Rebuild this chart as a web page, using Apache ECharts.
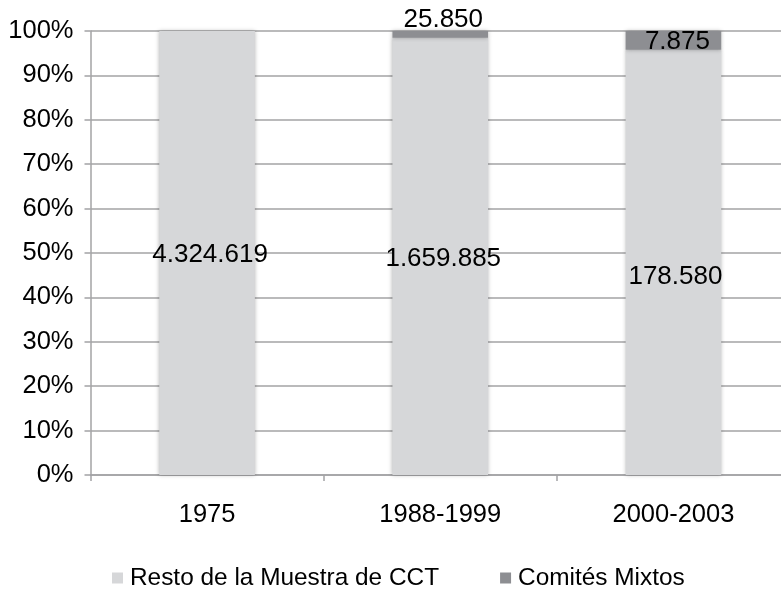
<!DOCTYPE html>
<html>
<head>
<meta charset="utf-8">
<title>CCT</title>
<script src="https://cdn.jsdelivr.net/npm/echarts@6/dist/echarts.min.js"></script>
<style>
  html, body { margin: 0; padding: 0; background: #fff; overflow: hidden; }
  /* the plot runs a few pixels past the right edge of the window */
  #chart { width: 790px; height: 591px; }
</style>
</head>
<body>
<div id="chart"></div>
<script>
// Periods and absolute counts per group
const periods = ['1975', '1988-1999', '2000-2003'];
const restoValues = [4324619, 1659885, 178580];
const comitesValues = [0, 25850, 7875];
const seriesNames = ['Resto de la Muestra de CCT', 'Comités Mixtos'];
const yTicks = [0, 10, 20, 30, 40, 50, 60, 70, 80, 90, 100];

const FONT = '"Liberation Sans", Arial, Helvetica, sans-serif';
const GRID_COLOR = '#a3a3a5';

// share of each period's total, in percent
const totals = restoValues.map((v, i) => v + comitesValues[i]);
const pct = (arr) => arr.map((v, i) => v / totals[i] * 100);

// thousands separated with dots
const fmt = (n) => String(n).replace(/\B(?=(\d{3})+(?!\d))/g, '.');

const restoData = pct(restoValues).map((p, i) => ({
  value: p,
  raw: restoValues[i],
  label: i === 2 ? { offset: [2, 14] } : { offset: [3, 2] }
}));

const comitesData = pct(comitesValues).map((p, i) => {
  const item = { value: p, raw: comitesValues[i] };
  if (comitesValues[i] === 0) item.label = { show: false };
  else if (i === 1) item.label = { position: 'top', distance: 0, offset: [3, 2] };
  else item.label = { position: 'inside', offset: [4, 1] };
  return item;
});

const chart = echarts.init(document.getElementById('chart'), null, { renderer: 'canvas' });

const barShadow = { shadowBlur: 4, shadowColor: 'rgba(0,0,0,0.28)' };

chart.setOption({
  animation: false,
  backgroundColor: '#ffffff',
  textStyle: { fontFamily: FONT },
  grid: { left: 90.5, top: 31, right: 0, bottom: 116, containLabel: false },
  legend: {
    data: seriesNames,
    left: 107,
    top: 561,
    icon: 'rect',
    itemWidth: 11,
    itemHeight: 11,
    itemGap: 61,
    textStyle: { fontSize: 24.4, color: '#000', fontFamily: FONT, padding: [0, 0, 0, 2] }
  },
  xAxis: {
    type: 'category',
    data: periods,
    axisLine: { show: true, lineStyle: { color: GRID_COLOR, width: 1.5 } },
    axisTick: { show: true, alignWithLabel: false, length: 6, lineStyle: { color: GRID_COLOR, width: 1.5 } },
    axisLabel: { color: '#000', fontSize: 25.5, margin: 27, fontFamily: FONT }
  },
  yAxis: {
    type: 'value',
    min: 0,
    max: 100,
    interval: 10,
    axisLine: { show: true, lineStyle: { color: GRID_COLOR, width: 1.5 } },
    axisTick: { show: true, length: 6, lineStyle: { color: GRID_COLOR, width: 1.5 } },
    splitLine: { show: true, lineStyle: { color: GRID_COLOR, width: 1.5 } },
    axisLabel: {
      color: '#000',
      fontSize: 25.5,
      margin: 17,
      fontFamily: FONT,
      formatter: (v) => (yTicks.includes(v) ? v + '%' : '')
    }
  },
  series: [
    {
      name: seriesNames[0],
      type: 'bar',
      stack: 'total',
      barWidth: '41%',
      data: restoData,
      itemStyle: Object.assign({ color: '#d6d7d9' }, barShadow),
      label: {
        show: true,
        position: 'inside',
        color: '#000',
        fontSize: 26,
        fontFamily: FONT,
        formatter: (p) => fmt(p.data.raw)
      }
    },
    {
      name: seriesNames[1],
      type: 'bar',
      stack: 'total',
      barWidth: '41%',
      data: comitesData,
      itemStyle: Object.assign({ color: '#8d8e92' }, barShadow),
      label: {
        show: true,
        position: 'inside',
        color: '#000',
        fontSize: 26,
        fontFamily: FONT,
        formatter: (p) => fmt(p.data.raw)
      }
    }
  ]
});
</script>
</body>
</html>
